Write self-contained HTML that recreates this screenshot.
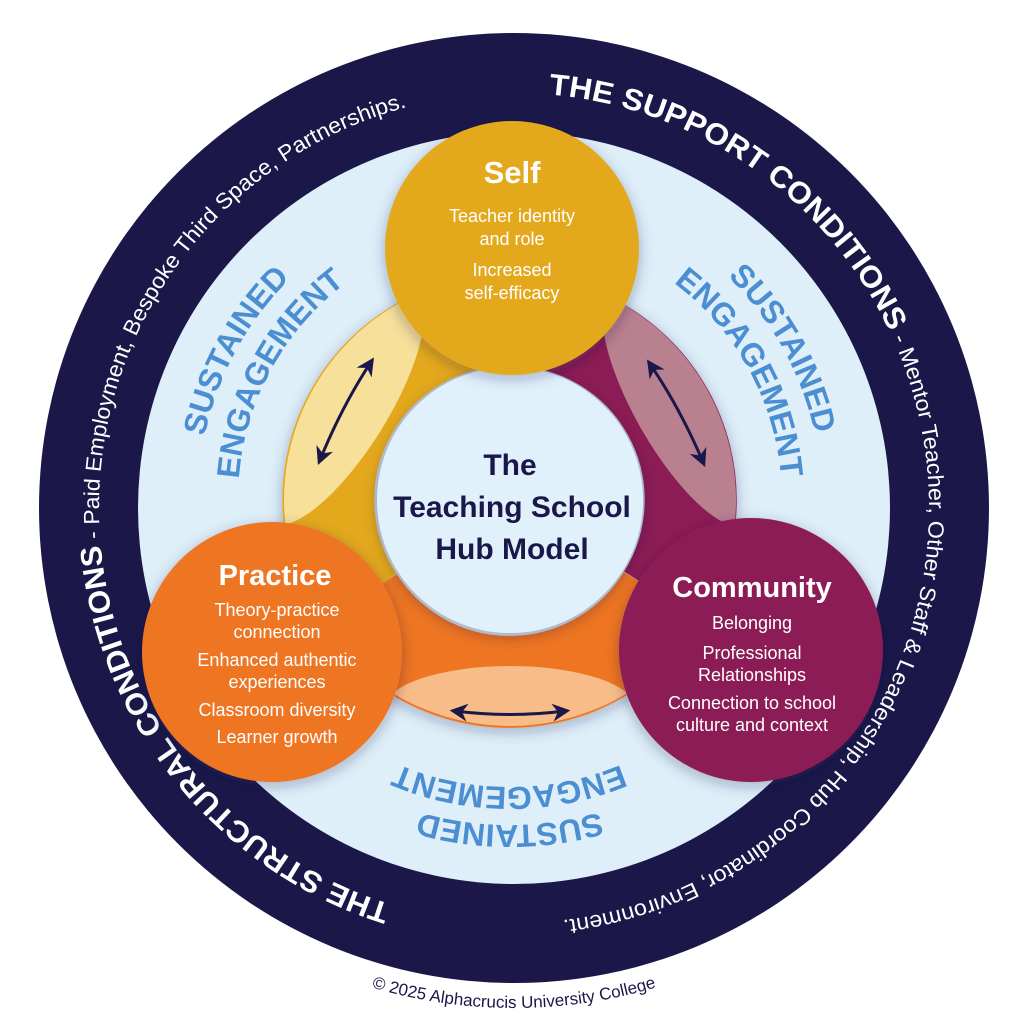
<!DOCTYPE html>
<html><head><meta charset="utf-8"><style>
html,body{margin:0;padding:0;background:#fff;}
svg{display:block;}
text{font-family:"Liberation Sans",sans-serif;}
</style></head><body>
<svg width="1024" height="1024" viewBox="0 0 1024 1024" xmlns="http://www.w3.org/2000/svg">
<defs>
<filter id="sh" x="-30%" y="-30%" width="160%" height="160%">
<feDropShadow dx="0" dy="4" stdDeviation="7" flood-color="#1b1849" flood-opacity="0.3"/>
</filter>
<clipPath id="ann"><circle cx="510" cy="500" r="226"/></clipPath>
<path id="ring" d="M514,923 A415,415 0 1 1 514,93 A415,415 0 1 1 514,923"/>
<path id="rS" d="M510,188 A312,312 0 1 1 510,812 A312,312 0 1 1 510,188"/>
<path id="rE" d="M510,228 A272,272 0 1 1 510,772 A272,272 0 1 1 510,228"/>
<path id="rSb" d="M510,175 A325,325 0 1 1 510,825 A325,325 0 1 1 510,175"/>
<path id="rEb" d="M510,213 A287,287 0 1 1 510,787 A287,287 0 1 1 510,213"/>
<path id="copy" d="M14,508 A500,500 0 0 0 1014,508"/>
<marker id="ah" viewBox="0 0 10 10" refX="7" refY="5" markerWidth="6" markerHeight="6" orient="auto-start-reverse">
<path d="M0,0 L10,5 L0,10 L3,5 z" fill="#1b1849"/>
</marker>
</defs>

<circle cx="514" cy="508" r="475" fill="#1b1849"/>
<circle cx="514" cy="508" r="376" fill="#deeff9"/>

<text font-size="22" fill="#fff"><textPath href="#ring" startOffset="125" textLength="1070" lengthAdjust="spacingAndGlyphs"><tspan font-size="30" font-weight="bold">THE STRUCTURAL CONDITIONS</tspan> - Paid Employment, Bespoke Third Space, Partnerships.</textPath></text>
<text font-size="22" fill="#fff"><textPath href="#ring" startOffset="1338" textLength="1220" lengthAdjust="spacingAndGlyphs"><tspan font-size="30" font-weight="bold">THE SUPPORT CONDITIONS</tspan> - Mentor Teacher, Other Staff &amp; Leadership, Hub Coordinator, Environment.</textPath></text>

<g font-size="32" font-weight="bold" fill="#4b8fd2" text-anchor="middle">
<text><textPath href="#rS" startOffset="1625">SUSTAINED</textPath></text>
<text><textPath href="#rE" startOffset="1417">ENGAGEMENT</textPath></text>
<text><textPath href="#rS" startOffset="332">SUSTAINED</textPath></text>
<text><textPath href="#rE" startOffset="290">ENGAGEMENT</textPath></text>
<text><textPath href="#rSb" startOffset="1021">SUSTAINED</textPath></text>
<text><textPath href="#rEb" startOffset="902">ENGAGEMENT</textPath></text>
</g>

<g fill="none" stroke-width="92" filter="url(#sh)">
<path d="M358,599 A180,180 0 0 1 510,320" stroke="#e3a81c"/>
<path d="M510,320 A180,180 0 0 1 663,596" stroke="#8c1c55"/>
<path d="M663,596 A180,180 0 0 1 358,599" stroke="#ee7423"/>
</g>
<g clip-path="url(#ann)">
<ellipse cx="343" cy="408" rx="135" ry="44" transform="rotate(-58 343 408)" fill="#f6e09a"/>
<ellipse cx="680" cy="408" rx="135" ry="44" transform="rotate(60 680 408)" fill="#b98090"/>
<ellipse cx="510" cy="708" rx="125" ry="42" fill="#f7bc88"/>
</g>

<g fill="none" stroke="#1b1849" stroke-width="3" marker-start="url(#ah)" marker-end="url(#ah)">
<path d="M320,460 Q342,406 371,362"/>
<path d="M650,364 Q680,408 703,462"/>
<path d="M455,711 Q510,718 565,711"/>
</g>

<circle cx="510" cy="500" r="133" fill="#e1f1fb" filter="url(#sh)"/>
<circle cx="512" cy="248" r="127" fill="#e3a81c" filter="url(#sh)"/>
<circle cx="272" cy="652" r="130" fill="#ee7423" filter="url(#sh)"/>
<circle cx="751" cy="650" r="132" fill="#8c1c55" filter="url(#sh)"/>

<g text-anchor="middle" fill="#1b1849" font-weight="bold" font-size="30">
<text x="510" y="475">The</text>
<text x="512" y="517">Teaching School</text>
<text x="512" y="559">Hub Model</text>
</g>

<g text-anchor="middle" fill="#fff">
<text x="512" y="183" font-size="31" font-weight="bold">Self</text>
<g font-size="18">
<text x="512" y="222">Teacher identity</text>
<text x="512" y="245">and role</text>
<text x="512" y="276">Increased</text>
<text x="512" y="299">self-efficacy</text>
</g>
<text x="275" y="585" font-size="29" font-weight="bold">Practice</text>
<g font-size="18">
<text x="277" y="616">Theory-practice</text>
<text x="277" y="638">connection</text>
<text x="277" y="666">Enhanced authentic</text>
<text x="277" y="688">experiences</text>
<text x="277" y="716">Classroom diversity</text>
<text x="277" y="743">Learner growth</text>
</g>
<text x="752" y="597" font-size="29" font-weight="bold">Community</text>
<g font-size="18">
<text x="752" y="629">Belonging</text>
<text x="752" y="659">Professional</text>
<text x="752" y="681">Relationships</text>
<text x="752" y="709">Connection to school</text>
<text x="752" y="731">culture and context</text>
</g>
</g>

<text font-size="17" fill="#1b1849" text-anchor="middle"><textPath href="#copy" startOffset="50%">© 2025 Alphacrucis University College</textPath></text>
</svg>
</body></html>
